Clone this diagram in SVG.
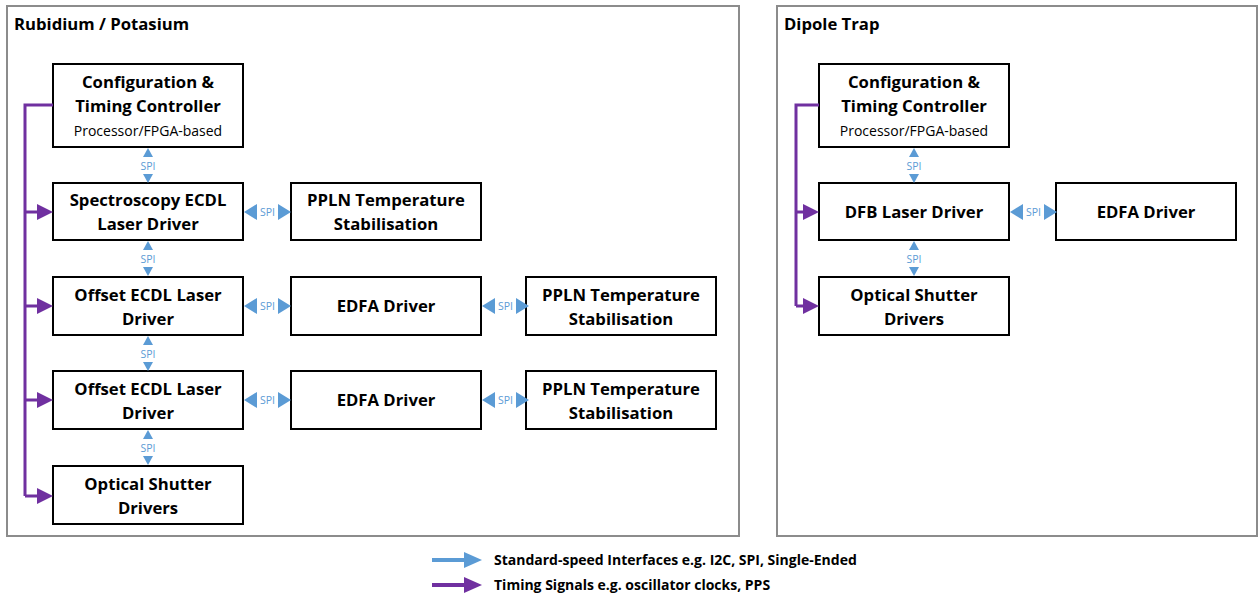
<svg xmlns="http://www.w3.org/2000/svg" width="1258" height="593" viewBox="0 0 1258 593">
  <style>
    .panel { fill: #ffffff; stroke: #8c8c8c; stroke-width: 2; }
    .box { fill: #ffffff; stroke: #000000; stroke-width: 2; }
    .t { font-family: "Open Sans", "Liberation Sans", sans-serif; font-weight: bold; font-size: 16.7px; fill: #000; text-anchor: middle; }
    .sub { font-family: "Open Sans", "Liberation Sans", sans-serif; font-size: 14px; fill: #000; text-anchor: middle; }
    .title { font-family: "Open Sans", "Liberation Sans", sans-serif; font-weight: bold; font-size: 16.7px; fill: #000; }
    .spi { font-family: "Open Sans", "Liberation Sans", sans-serif; font-size: 10.5px; fill: #5b9bd5; text-anchor: middle; }
    .leg { font-family: "Open Sans", "Liberation Sans", sans-serif; font-weight: bold; font-size: 14px; fill: #000; }
    .blue { fill: #5b9bd5; }
    .timing { fill: none; stroke: #7030a0; stroke-width: 3; }
    .tip { fill: #7030a0; }
  </style>
  <defs>
    <!-- vertical SPI link: arrowheads at both ends and label in between -->
    <g id="spiV">
      <polygon class="blue" points="0,0 -5,9 5,9"/>
      <text class="spi" x="0" y="21.5">SPI</text>
      <polygon class="blue" points="0,35 -5,26 5,26"/>
    </g>
    <!-- horizontal SPI link -->
    <g id="spiH">
      <polygon class="blue" points="0,0 13,-8 13,8"/>
      <text class="spi" x="23.5" y="3.8">SPI</text>
      <polygon class="blue" points="47,0 34,-8 34,8"/>
    </g>
    <polygon id="tipR" class="tip" points="0,-8 16,0 0,8"/>
  </defs>

  <!-- panels -->
  <g id="panel-rb-k">
    <rect class="panel" x="7" y="6" width="732" height="530"/>
    <text class="title" x="14" y="30">Rubidium / Potasium</text>
  </g>
  <g id="panel-dipole">
    <rect class="panel" x="777" y="6" width="480" height="530"/>
    <text class="title" x="784" y="30">Dipole Trap</text>
  </g>

  <!-- Rubidium / Potasium nodes -->
  <g id="rk-controller">
    <rect class="box" x="53" y="64" width="190" height="83"/>
    <text class="t" x="148" y="88">Configuration &amp;</text>
    <text class="t" x="148" y="112">Timing Controller</text>
    <text class="sub" x="148" y="136">Processor/FPGA-based</text>
  </g>
  <g id="rk-spectroscopy">
    <rect class="box" x="53" y="183" width="190" height="57"/>
    <text class="t" x="148" y="206">Spectroscopy ECDL</text>
    <text class="t" x="148" y="230">Laser Driver</text>
  </g>
  <g id="rk-ppln-1">
    <rect class="box" x="291" y="183" width="190" height="57"/>
    <text class="t" x="386" y="206">PPLN Temperature</text>
    <text class="t" x="386" y="230">Stabilisation</text>
  </g>
  <g id="rk-offset-1">
    <rect class="box" x="53" y="277" width="190" height="58"/>
    <text class="t" x="148" y="301">Offset ECDL Laser</text>
    <text class="t" x="148" y="325">Driver</text>
  </g>
  <g id="rk-edfa-1">
    <rect class="box" x="291" y="277" width="190" height="58"/>
    <text class="t" x="386" y="312">EDFA Driver</text>
  </g>
  <g id="rk-ppln-2">
    <rect class="box" x="526" y="277" width="190" height="58"/>
    <text class="t" x="621" y="301">PPLN Temperature</text>
    <text class="t" x="621" y="325">Stabilisation</text>
  </g>
  <g id="rk-offset-2">
    <rect class="box" x="53" y="371" width="190" height="58"/>
    <text class="t" x="148" y="395">Offset ECDL Laser</text>
    <text class="t" x="148" y="419">Driver</text>
  </g>
  <g id="rk-edfa-2">
    <rect class="box" x="291" y="371" width="190" height="58"/>
    <text class="t" x="386" y="406">EDFA Driver</text>
  </g>
  <g id="rk-ppln-3">
    <rect class="box" x="526" y="371" width="190" height="58"/>
    <text class="t" x="621" y="395">PPLN Temperature</text>
    <text class="t" x="621" y="419">Stabilisation</text>
  </g>
  <g id="rk-shutter">
    <rect class="box" x="53" y="466" width="190" height="58"/>
    <text class="t" x="148" y="490">Optical Shutter</text>
    <text class="t" x="148" y="514">Drivers</text>
  </g>

  <!-- Dipole Trap nodes -->
  <g id="dt-controller">
    <rect class="box" x="819" y="64" width="190" height="83"/>
    <text class="t" x="914" y="88">Configuration &amp;</text>
    <text class="t" x="914" y="112">Timing Controller</text>
    <text class="sub" x="914" y="136">Processor/FPGA-based</text>
  </g>
  <g id="dt-dfb">
    <rect class="box" x="819" y="183" width="190" height="57"/>
    <text class="t" x="914" y="218">DFB Laser Driver</text>
  </g>
  <g id="dt-edfa">
    <rect class="box" x="1056" y="183" width="180" height="57"/>
    <text class="t" x="1146" y="218">EDFA Driver</text>
  </g>
  <g id="dt-shutter">
    <rect class="box" x="819" y="277" width="190" height="58"/>
    <text class="t" x="914" y="301">Optical Shutter</text>
    <text class="t" x="914" y="325">Drivers</text>
  </g>

  <!-- connectors -->
  <g id="connectors">
    <!-- SPI links -->
    <use href="#spiV" x="148" y="148"/>
    <use href="#spiV" x="148" y="241"/>
    <use href="#spiV" x="148" y="336"/>
    <use href="#spiV" x="148" y="430"/>
    <use href="#spiH" x="244" y="212"/>
    <use href="#spiH" x="244" y="306"/>
    <use href="#spiH" x="244" y="400"/>
    <use href="#spiH" x="482" y="306"/>
    <use href="#spiH" x="482" y="400"/>
    <use href="#spiV" x="914" y="148"/>
    <use href="#spiV" x="914" y="241"/>
    <use href="#spiH" x="1010" y="212"/>

    <!-- timing distribution, Rubidium / Potasium -->
    <path class="timing" d="M53,105 H25 V496"/>
    <path class="timing" d="M25,212 H39 M25,306 H39 M25,400 H39 M25,496 H39"/>
    <use href="#tipR" x="37" y="212"/>
    <use href="#tipR" x="37" y="306"/>
    <use href="#tipR" x="37" y="400"/>
    <use href="#tipR" x="37" y="496"/>

    <!-- timing distribution, Dipole Trap -->
    <path class="timing" d="M819,105 H796 V306"/>
    <path class="timing" d="M796,212 H805 M796,306 H805"/>
    <use href="#tipR" x="803" y="212"/>
    <use href="#tipR" x="803" y="306"/>
  </g>

  <!-- legend -->
  <g id="legend">
    <path d="M432,560 H466" stroke="#5b9bd5" stroke-width="4"/>
    <polygon class="blue" points="464,552 482,560 464,568"/>
    <text class="leg" x="494" y="565">Standard-speed Interfaces e.g. I2C, SPI, Single-Ended</text>
    <path d="M432,585 H466" stroke="#7030a0" stroke-width="4"/>
    <polygon class="tip" points="464,577 482,585 464,593"/>
    <text class="leg" x="494" y="590">Timing Signals e.g. oscillator clocks, PPS</text>
  </g>
</svg>
